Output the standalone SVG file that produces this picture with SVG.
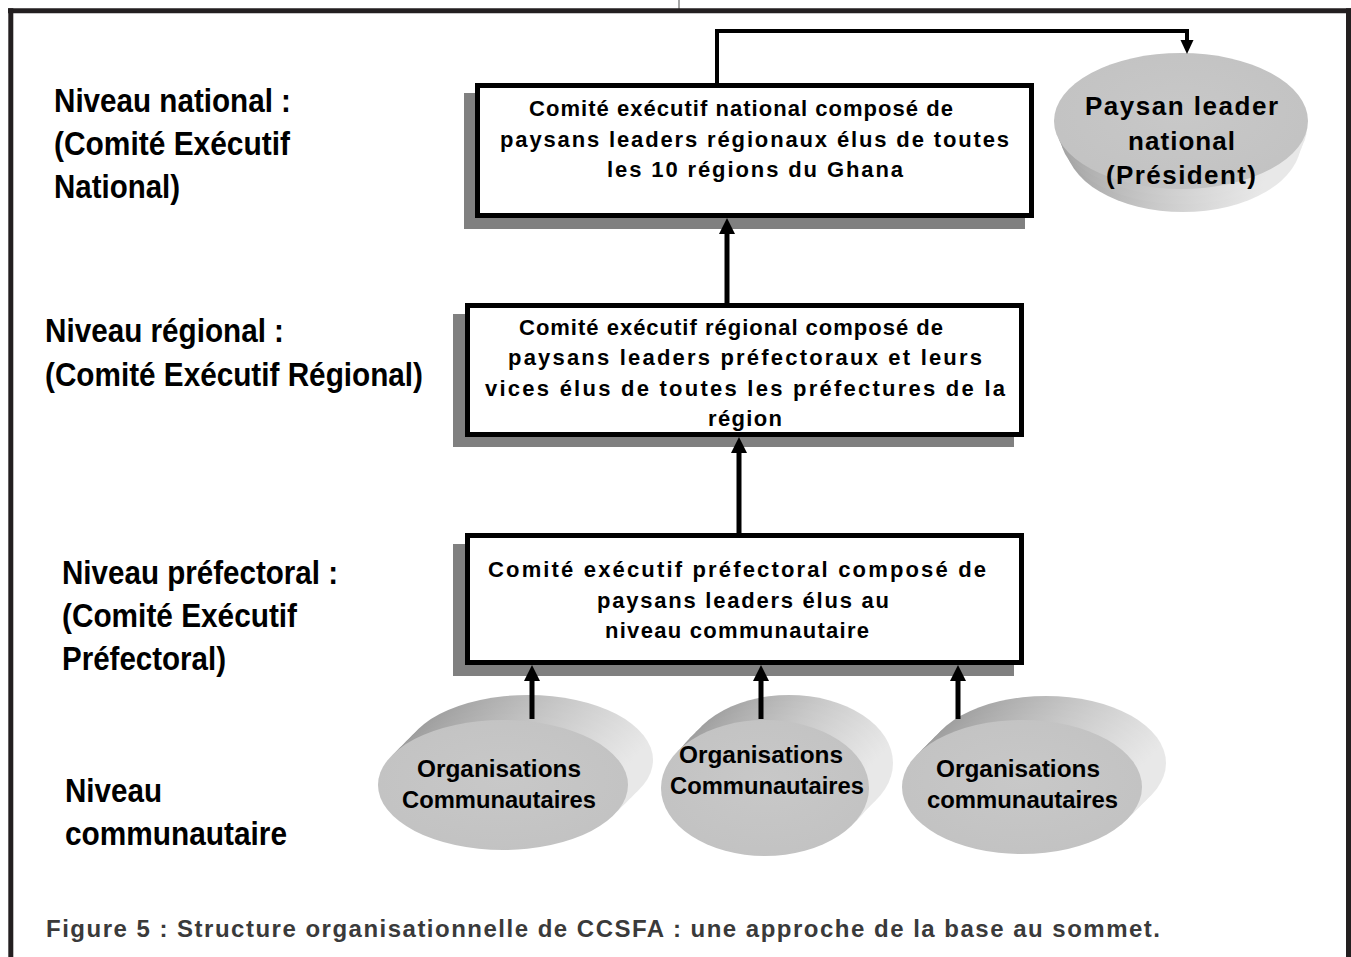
<svg xmlns="http://www.w3.org/2000/svg" width="1351" height="957" viewBox="0 0 1351 957">
<style>
.frame{stroke:#231f20;stroke-width:5;fill:none}
.box{fill:#fff;stroke:#000;stroke-width:5}
.shadow{fill:#808080}
.bt{font-family:"Liberation Sans",Arial,sans-serif;font-weight:bold;font-size:22px;fill:#000}
.lt{font-family:"Liberation Sans",Arial,sans-serif;font-weight:bold;font-size:33px;fill:#000}
.et{font-family:"Liberation Sans",Arial,sans-serif;font-weight:bold;font-size:23px;fill:#000}
.pt{font-family:"Liberation Sans",Arial,sans-serif;font-weight:bold;font-size:26px;fill:#000}
.cap{font-family:"Liberation Sans",Arial,sans-serif;font-weight:bold;font-size:24px;fill:#3a3a3a}
.conn{stroke:#000;stroke-width:5;fill:none}
.conn2{stroke:#000;stroke-width:4;fill:none}
.side{fill:url(#sideG)}
.face{fill:url(#faceG)}
</style>
<defs>
<linearGradient id="sideG" x1="0" y1="0" x2="1" y2="0.3">
<stop offset="0" stop-color="#929292"/>
<stop offset="0.6" stop-color="#c8c8c8"/>
<stop offset="1" stop-color="#e8e8e8"/>
</linearGradient>
<radialGradient id="faceG" cx="0.5" cy="0.45" r="0.6">
<stop offset="0" stop-color="#c8c8c8"/>
<stop offset="1" stop-color="#c2c2c2"/>
</radialGradient>
</defs>

<g id="frame">
<line x1="679" y1="0" x2="679" y2="9" stroke="#888" stroke-width="1.5"/>
<line class="frame" x1="8" y1="10.8" x2="1351" y2="10.8"/>
<line class="frame" x1="10.8" y1="8.3" x2="10.8" y2="957"/>
<line class="frame" x1="1348.5" y1="8.3" x2="1348.5" y2="957"/>
</g>

<g id="labels">
<text class="lt" x="54" y="112" textLength="237" lengthAdjust="spacingAndGlyphs">Niveau national :</text>
<text class="lt" x="54" y="155" textLength="236" lengthAdjust="spacingAndGlyphs">(Comité Exécutif</text>
<text class="lt" x="54" y="198" textLength="126" lengthAdjust="spacingAndGlyphs">National)</text>
<text class="lt" x="45" y="342" textLength="239" lengthAdjust="spacingAndGlyphs">Niveau régional :</text>
<text class="lt" x="45" y="386" textLength="378" lengthAdjust="spacingAndGlyphs">(Comité Exécutif Régional)</text>
<text class="lt" x="62" y="584" textLength="276" lengthAdjust="spacingAndGlyphs">Niveau préfectoral :</text>
<text class="lt" x="62" y="627" textLength="235" lengthAdjust="spacingAndGlyphs">(Comité Exécutif</text>
<text class="lt" x="62" y="670" textLength="164" lengthAdjust="spacingAndGlyphs">Préfectoral)</text>
<text class="lt" x="65" y="802" textLength="97" lengthAdjust="spacingAndGlyphs">Niveau</text>
<text class="lt" x="65" y="845" textLength="222" lengthAdjust="spacingAndGlyphs">communautaire</text>
</g>

<g id="node-national">
<rect class="shadow" x="464" y="93" width="561" height="136"/>
<rect class="box" x="477.5" y="85.5" width="554" height="130"/>
<text class="bt" x="529" y="116" textLength="424" lengthAdjust="spacing">Comité exécutif national composé de</text>
<text class="bt" x="500" y="147" textLength="509" lengthAdjust="spacing">paysans leaders régionaux élus de toutes</text>
<text class="bt" x="607" y="177" textLength="296" lengthAdjust="spacing">les 10 régions du Ghana</text>
</g>

<g id="node-regional">
<rect class="shadow" x="453" y="314" width="561" height="133"/>
<rect class="box" x="467.5" y="305.5" width="554" height="129"/>
<text class="bt" x="519" y="335" textLength="424" lengthAdjust="spacing">Comité exécutif régional composé de</text>
<text class="bt" x="508" y="365" textLength="474" lengthAdjust="spacing">paysans leaders préfectoraux et leurs</text>
<text class="bt" x="485" y="396" textLength="520" lengthAdjust="spacing">vices élus de toutes les préfectures de la</text>
<text class="bt" x="708" y="426" textLength="74" lengthAdjust="spacing">région</text>
</g>

<g id="node-prefectoral">
<rect class="shadow" x="453" y="544" width="561" height="132"/>
<rect class="box" x="467.5" y="535.5" width="554" height="127"/>
<text class="bt" x="488" y="577" textLength="498" lengthAdjust="spacing">Comité exécutif préfectoral composé de</text>
<text class="bt" x="597" y="608" textLength="292" lengthAdjust="spacing">paysans leaders élus au</text>
<text class="bt" x="605" y="638" textLength="264" lengthAdjust="spacing">niveau communautaire</text>
</g>

<g id="node-president">
<ellipse class="side" cx="1183" cy="142" rx="118" ry="70"/>
<ellipse class="side" cx="1182" cy="134" rx="122" ry="70"/>
<ellipse class="side" cx="1182" cy="127" rx="125" ry="69"/>
<ellipse class="face" cx="1181" cy="121" rx="127" ry="68"/>
<text class="pt" x="1085" y="115" textLength="193" lengthAdjust="spacing">Paysan leader</text>
<text class="pt" x="1128" y="150" textLength="107" lengthAdjust="spacing">national</text>
<text class="pt" x="1106" y="184" textLength="150" lengthAdjust="spacing">(Président)</text>
</g>

<g id="node-org1">
<ellipse class="side" cx="528" cy="760" rx="125" ry="65"/>
<ellipse class="side" cx="522" cy="766" rx="125" ry="65"/>
<ellipse class="side" cx="516" cy="772" rx="125" ry="65"/>
<ellipse class="side" cx="509" cy="779" rx="125" ry="65"/>
<ellipse class="face" cx="503" cy="785" rx="125" ry="65"/>
<text class="et" x="417" y="777" textLength="164" lengthAdjust="spacingAndGlyphs">Organisations</text>
<text class="et" x="402" y="808" textLength="194" lengthAdjust="spacingAndGlyphs">Communautaires</text>
</g>

<g id="node-org2">
<ellipse class="side" cx="789" cy="763" rx="104" ry="68"/>
<ellipse class="side" cx="783" cy="769" rx="104" ry="68"/>
<ellipse class="side" cx="777" cy="775" rx="104" ry="68"/>
<ellipse class="side" cx="771" cy="782" rx="104" ry="68"/>
<ellipse class="face" cx="765" cy="788" rx="104" ry="68"/>
<text class="et" x="679" y="763" textLength="164" lengthAdjust="spacingAndGlyphs">Organisations</text>
<text class="et" x="670" y="794" textLength="194" lengthAdjust="spacingAndGlyphs">Communautaires</text>
</g>

<g id="node-org3">
<ellipse class="side" cx="1046" cy="763" rx="120" ry="67"/>
<ellipse class="side" cx="1040" cy="769" rx="120" ry="67"/>
<ellipse class="side" cx="1034" cy="775" rx="120" ry="67"/>
<ellipse class="side" cx="1028" cy="781" rx="120" ry="67"/>
<ellipse class="face" cx="1022" cy="787" rx="120" ry="67"/>
<text class="et" x="936" y="777" textLength="164" lengthAdjust="spacingAndGlyphs">Organisations</text>
<text class="et" x="927" y="808" textLength="191" lengthAdjust="spacingAndGlyphs">communautaires</text>
</g>

<g id="connectors">
<path class="conn2" d="M717 84 V31 H1187 V40"/>
<path d="M1180.5 40 L1193.5 40 L1187 54 Z" fill="#000"/>
<line class="conn" x1="727" y1="303" x2="727" y2="234"/>
<path d="M719 234 L735 234 L727 218 Z" fill="#000"/>
<line class="conn" x1="739" y1="533" x2="739" y2="453"/>
<path d="M731 453 L747 453 L739 437 Z" fill="#000"/>
<line class="conn" x1="532" y1="719" x2="532" y2="681"/>
<path d="M524 681 L540 681 L532 665 Z" fill="#000"/>
<line class="conn" x1="761" y1="719" x2="761" y2="681"/>
<path d="M753 681 L769 681 L761 665 Z" fill="#000"/>
<line class="conn" x1="958" y1="719" x2="958" y2="681"/>
<path d="M950 681 L966 681 L958 665 Z" fill="#000"/>
</g>

<text class="cap" x="46" y="937" textLength="1114" lengthAdjust="spacing">Figure 5 : Structure organisationnelle de CCSFA : une approche de la base au sommet.</text>
</svg>
